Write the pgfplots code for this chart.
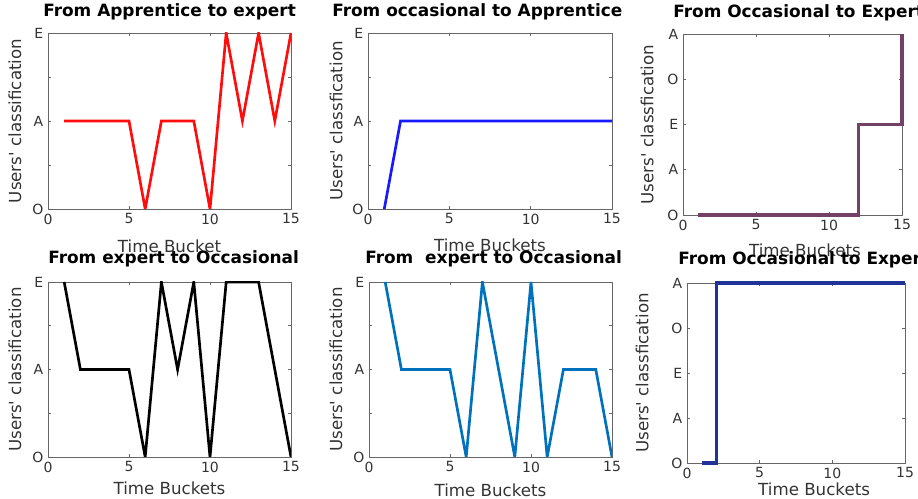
\documentclass[border=0pt]{standalone}
\usepackage{fontspec}
\setmainfont{DejaVu Sans}
\usepackage{pgfplots}
\pgfplotsset{compat=1.18}

\definecolor{linered}{rgb}{1,0.05,0.05}
\definecolor{lineblue}{rgb}{0.1,0.1,1}
\definecolor{linepurple}{rgb}{0.45,0.25,0.40}
\definecolor{mblue}{rgb}{0,0.447,0.741}
\definecolor{navyline}{rgb}{0.13,0.2,0.6}

\pgfplotsset{
  panel/.style={
    scale only axis, anchor=south west,
    xmin=0, xmax=15, xtick={0,5,10,15},
    tick align=inside, tick pos=both,
    major tick length=2.5pt,
    axis line style={draw=black!60, line width=0.6pt},
    every tick/.style={black!60, line width=0.5pt},
    tick label style={font=\fontsize{10.5}{12}\selectfont, text=black!80},
    label style={font=\fontsize{12.5}{15}\selectfont, text=black!80},
    /pgf/number format/assume math mode=true,
    every axis plot/.append style={line width=2pt},
    title style={font=\fontsize{12.7}{15}\bfseries, anchor=base west,
      inner xsep=0pt, at={(axis description cs:0,1)}},
    xlabel={Time Buckets},
    ylabel={Users\textquotesingle\ classification},
  },
  oae/.style={ymin=0, ymax=2, ytick={0,0.5,1,1.5,2}, yticklabels={O,,A,,E}},
  oaeoa/.style={ymin=0, ymax=4, ytick={0,1,2,3,4}, yticklabels={O,A,E,O,A}},
}

\begin{document}
\begin{tikzpicture}
\useasboundingbox (0,0) rectangle (688.5pt,374.25pt);

% top left
\begin{axis}[panel, oae,
  at={(36pt,217.5pt)}, width=182.25pt, height=132pt,
  title={From Apprentice to expert},
  title style={xshift=-3.75pt, yshift=6pt},
  xlabel={Time Bucket},
  xlabel style={at={(axis description cs:0.5,-0.25)}, anchor=base},
  ylabel style={at={(axis description cs:-0.136,0.5)}, anchor=center},
]
\addplot[draw=linered, line width=2pt] coordinates {
(1,1) (2,1) (3,1) (4,1) (5,1) (6,0) (7,1) (8,1) (9,1) (10,0)
(11,2) (12,1) (13,2) (14,1) (15,2)};
\end{axis}

% top middle
\begin{axis}[panel, oae, clip=false,
  at={(276pt,217.5pt)}, width=183pt, height=132pt,
  title={From occasional to Apprentice},
  title style={xshift=-27pt, yshift=6pt},
  xlabel style={at={(axis description cs:0.5,-0.244)}, anchor=base},
  ylabel={Users\textquotesingle\ classfication},
  ylabel style={at={(axis description cs:-0.131,0.5)}, anchor=center},
]
\addplot[draw=lineblue, line width=2pt] coordinates {
(1,0) (2,1) (3,1) (4,1) (5,1) (6,1) (7,1) (8,1) (9,1) (10,1)
(11,1) (12,1) (13,1) (14,1) (15,1)};
\end{axis}

% top right (stairs)
\begin{axis}[panel, oaeoa, clip=false,
  at={(512.25pt,213pt)}, width=164.25pt, height=135.75pt,
  title={From Occasional to Expert},
  title style={xshift=-7.5pt, yshift=6pt},
  xlabel style={at={(axis description cs:0.557,-0.232)}, anchor=base},
  ylabel={Users\textquotesingle\ classfication},
  ylabel style={at={(axis description cs:-0.164,0.5)}, anchor=center},
]
\addplot[draw=linepurple, line width=2.3pt] coordinates {
(1,0) (12,0) (12,2) (15,2) (15,4)};
\end{axis}

% bottom left
\begin{axis}[panel, oae,
  at={(36pt,31.5pt)}, width=182.25pt, height=131.25pt,
  title={From expert to Occasional},
  title style={xshift=0pt, yshift=7.5pt},
  xlabel style={at={(axis description cs:0.5,-0.217)}, anchor=base},
  ylabel style={at={(axis description cs:-0.136,0.5)}, anchor=center},
]
\addplot[draw=black, line width=2pt] coordinates {
(1,2) (2,1) (3,1) (4,1) (5,1) (6,0) (7,2) (8,1) (9,2) (10,0)
(11,2) (12,2) (13,2) (14,1) (15,0)};
\end{axis}

% bottom middle
\begin{axis}[panel, oae,
  at={(276.75pt,31.5pt)}, width=182.25pt, height=131.25pt,
  title={From \ expert to Occasional},
  title style={xshift=-3pt, yshift=7.5pt},
  xlabel style={at={(axis description cs:0.5,-0.223)}, anchor=base},
  ylabel style={at={(axis description cs:-0.136,0.5)}, anchor=center},
]
\addplot[draw=mblue, line width=2pt] coordinates {
(1,2) (2,1) (3,1) (4,1) (5,1) (6,0) (7,2) (8,1) (9,0) (10,2)
(11,0) (12,1) (13,1) (14,1) (15,0)};
\end{axis}

% bottom right (stairs)
\begin{axis}[panel, oaeoa, clip=false,
  at={(515.25pt,27pt)}, width=163.5pt, height=135pt,
  title={From Occasional to Expert},
  title style={xshift=-6.75pt, yshift=7.5pt},
  xlabel style={at={(axis description cs:0.583,-0.178)}, anchor=base},
  ylabel={Users\textquotesingle\ classfication},
  ylabel style={at={(axis description cs:-0.206,0.5)}, anchor=center},
]
\addplot[draw=navyline, line width=2.3pt] coordinates {
(1,0) (2,0) (2,4) (15,4)};
\end{axis}

\end{tikzpicture}
\end{document}
